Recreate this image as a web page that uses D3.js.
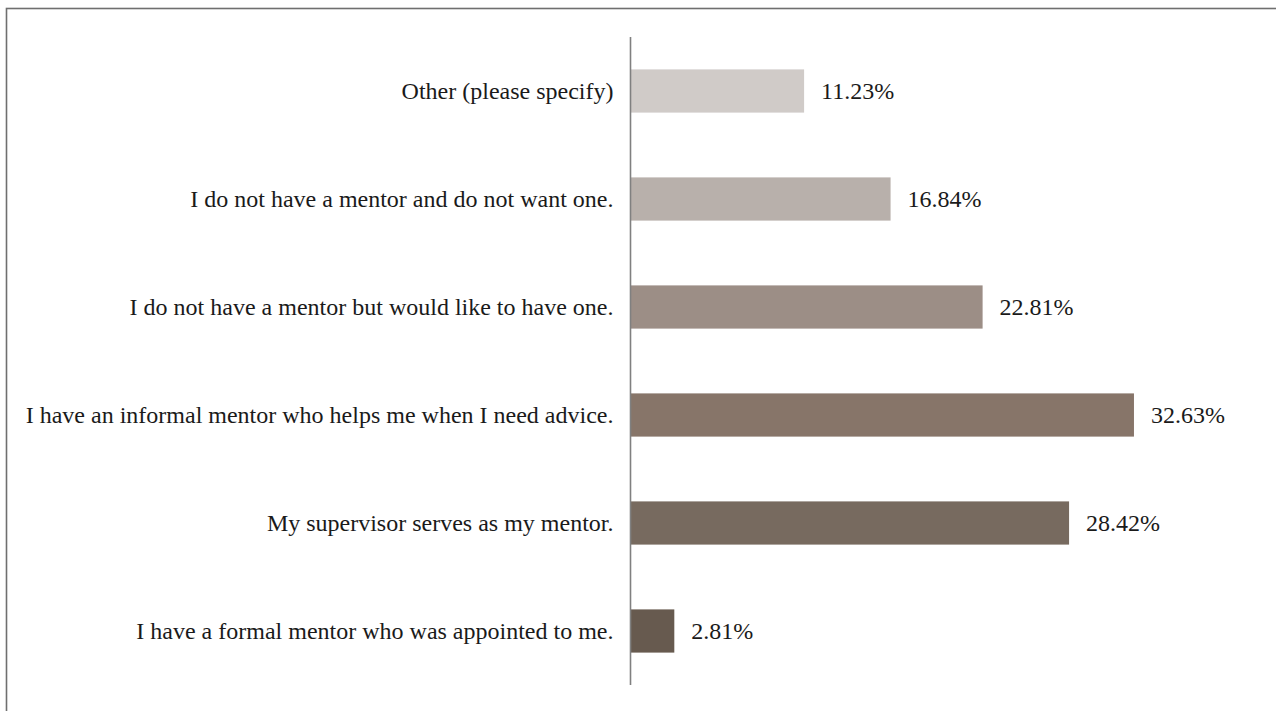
<!DOCTYPE html>
<html>
<head>
<meta charset="utf-8">
<script src="https://cdn.jsdelivr.net/npm/d3@7"></script>
<style>
  html, body { margin: 0; padding: 0; background: #ffffff; }
  svg { display: block; }
</style>
</head>
<body>
<svg id="chart" width="1276" height="711"></svg>
<script>
const categories = [
  "Other (please specify)",
  "I do not have a mentor and do not want one.",
  "I do not have a mentor but would like to have one.",
  "I have an informal mentor who helps me when I need advice.",
  "My supervisor serves as my mentor.",
  "I have a formal mentor who was appointed to me."
];
const values = [11.23, 16.84, 22.81, 32.63, 28.42, 2.81];
const valueLabels = ["11.23%", "16.84%", "22.81%", "32.63%", "28.42%", "2.81%"];
const colors = ["#d0cbc8", "#b8b0ab", "#9c8e86", "#877569", "#776a5f", "#675a4f"];

const svg = d3.select("#chart");
const W = 1276, H = 711;

// outer frame
svg.append("rect")
  .attr("x", 6.5).attr("y", 8.5)
  .attr("width", W + 10).attr("height", H + 10)
  .attr("fill", "none").attr("stroke", "#6f6f6f").attr("stroke-width", 1.6);

const x0 = 631;
const x = d3.scaleLinear().domain([0, 35]).range([x0, x0 + 539.5]);
const y = d3.scaleBand().domain(categories).range([37, 685]).paddingInner(0.6).paddingOuter(0.3);

const g = svg.append("g");

g.selectAll("rect.bar")
  .data(categories)
  .join("rect")
  .attr("class", "bar")
  .attr("x", x(0))
  .attr("y", d => y(d))
  .attr("width", (d, i) => x(values[i]) - x(0))
  .attr("height", y.bandwidth())
  .attr("fill", (d, i) => colors[i]);

// axis
const yAxis = d3.axisLeft(y).tickSize(0).tickPadding(17);
const ax = g.append("g").attr("transform", `translate(${x0 - 0.5},0)`).call(yAxis);
ax.select(".domain").attr("stroke", "#808080").attr("stroke-width", 1.6)
  .attr("d", "M0,37V685");
ax.selectAll(".tick text")
  .attr("font-family", "'Liberation Serif', 'Times New Roman', serif")
  .attr("font-size", 24)
  .attr("fill", "#1a1a1a");

// value labels
g.selectAll("text.val")
  .data(categories)
  .join("text")
  .attr("class", "val")
  .attr("x", (d, i) => x(values[i]) + 17)
  .attr("y", d => y(d) + y.bandwidth() / 2)
  .attr("dy", "0.35em")
  .attr("font-family", "'Liberation Serif', 'Times New Roman', serif")
  .attr("font-size", 24)
  .attr("fill", "#1a1a1a")
  .text((d, i) => valueLabels[i]);
</script>
</body>
</html>
